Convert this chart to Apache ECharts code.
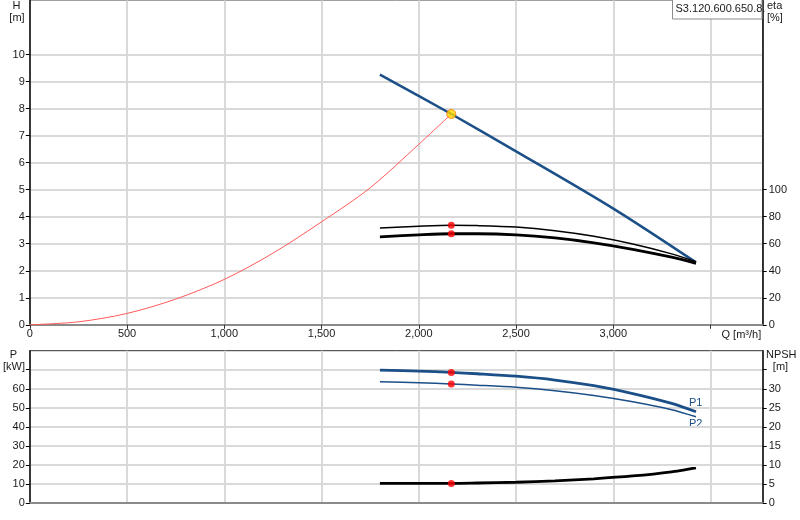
<!DOCTYPE html>
<html>
<head>
<meta charset="utf-8">
<script src="https://cdn.jsdelivr.net/npm/echarts@6/dist/echarts.min.js"></script>
<style>
html,body{margin:0;padding:0;background:#fff;}
#c{width:800px;height:520px;}
</style>
</head>
<body>
<div id="c"></div>
<script>
// ---- data ----
const qH = [1800, 2167, 2500, 3000, 3425];
const hH = [9.26, 7.80, 6.42, 4.30, 2.31];

const qSys = [0, 250, 500, 750, 1000, 1250, 1500, 1750, 2000, 2167];
const hSys = [0, 0.11, 0.42, 0.95, 1.68, 2.65, 3.81, 5.07, 6.68, 7.80];

const qCurve = [1800, 2000, 2167, 2300, 2500, 2700, 2900, 3100, 3300, 3425];
const eta1 = [71.6, 72.9, 73.6, 73.4, 72.3, 69.6, 65.5, 59.8, 52.5, 46.7];
const eta2 = [65.1, 66.6, 67.4, 67.4, 66.6, 64.3, 60.7, 55.9, 50.0, 45.5];
const p1 = [69.8, 69.3, 68.6, 67.9, 66.6, 64.6, 61.6, 57.5, 52.3, 47.9];
const p2 = [63.7, 63.2, 62.5, 61.9, 60.8, 59.0, 56.5, 53.2, 49.0, 45.3];
const npsh = [5.15, 5.15, 5.15, 5.25, 5.45, 5.8, 6.35, 7.1, 8.2, 9.25];

const opQ = 2167;
const opH = 7.80;
const opEta1 = 73.6;
const opEta2 = 67.4;
const opP1 = 68.6;
const opP2 = 62.5;
const opNpsh = 5.15;

const qTicks = [0, 500, 1000, 1500, 2000, 2500, 3000, 3500];
const qLabels = [0, 500, 1000, 1500, 2000, 2500, 3000];
const hTicks = [0, 1, 2, 3, 4, 5, 6, 7, 8, 9, 10];
const etaTicks = [0, 20, 40, 60, 80, 100];
const pTicks = [0, 10, 20, 30, 40, 50, 60, 70];
const pLabels = [0, 10, 20, 30, 40, 50, 60];
const npshTicks = [0, 5, 10, 15, 20, 25, 30, 35];
const npshLabels = [0, 5, 10, 15, 20, 25, 30];

const title = 'S3.120.600.650.8.';
// ---------------------------------------

const zip = (xs, ys) => xs.map((x, i) => [x, ys[i]]);
const FONT = 'Liberation Sans, Arial, sans-serif';
const TXT = '#1a1a1a';
const GRIDC = '#d9d9d9';
const BLUE = '#1b4f88';
const QMAX = 3768;
const SM = 0.3;

const chart = echarts.init(document.getElementById('c'), null, {renderer: 'canvas'});

function yAx(grid, pos, min, max, interval, ticks, labels, split, margin) {
  return {
    type: 'value', gridIndex: grid, position: pos, min: min, max: max, interval: interval,
    axisLine: {show: true, lineStyle: {color: '#000', width: 1.5}},
    axisTick: {show: true, length: 4, customValues: ticks, lineStyle: {color: '#000'}},
    axisLabel: {show: true, customValues: labels, margin: margin, fontFamily: FONT, fontSize: 11, color: TXT},
    splitLine: {show: split, lineStyle: {color: GRIDC, width: 2}}
  };
}

function curve(xi, yi, q, v, color, width, z) {
  return {type: 'line', xAxisIndex: xi, yAxisIndex: yi, data: zip(q, v), smooth: SM,
    showSymbol: false, lineStyle: {color: color, width: width}, z: z || 4};
}

const option = {
  animation: false,
  backgroundColor: '#fff',
  grid: [
    {left: 29.8, right: 37.3, top: 0.5, height: 324.3, show: true, borderColor: '#a0a0a0', borderWidth: 1},
    {left: 29.8, right: 37.3, top: 350.7, height: 152.3, show: true, borderColor: '#333', borderWidth: 1}
  ],
  xAxis: [
    {
      type: 'value', gridIndex: 0, min: 0, max: QMAX, interval: 500, position: 'bottom',
      axisLine: {show: true, onZero: false, lineStyle: {color: '#8a8a8a', width: 2}},
      axisTick: {show: true, length: 4, customValues: qTicks, lineStyle: {color: '#333'}},
      axisLabel: {show: true, customValues: qLabels, margin: 4, fontFamily: FONT, fontSize: 11, color: TXT,
        formatter: v => Number(v).toLocaleString('en-US')},
      splitLine: {show: true, lineStyle: {color: GRIDC, width: 2}}
    },
    {
      type: 'value', gridIndex: 1, min: 0, max: QMAX, interval: 500, position: 'bottom',
      axisLine: {show: true, onZero: false, lineStyle: {color: '#8a8a8a', width: 2}},
      axisTick: {show: false},
      axisLabel: {show: false},
      splitLine: {show: true, lineStyle: {color: GRIDC, width: 2}}
    }
  ],
  yAxis: [
    yAx(0, 'left', 0, 12, 1, hTicks, hTicks, true, 5),
    yAx(0, 'right', 0, 240, 20, etaTicks, etaTicks, false, 6),
    yAx(1, 'left', 0, 80, 10, pTicks, pLabels, true, 5),
    yAx(1, 'right', 0, 40, 5, npshTicks, npshLabels, false, 6)
  ],
  series: [
    curve(0, 0, qSys, hSys, '#ff5a5a', 1, 3),
    curve(0, 0, qH, hH, BLUE, 2.5),
    curve(0, 1, qCurve, eta1, '#000', 1.5),
    curve(0, 1, qCurve, eta2, '#000', 2.8),
    {type: 'scatter', xAxisIndex: 0, yAxisIndex: 1, data: [[opQ, opEta1], [opQ, opEta2]], symbolSize: 7,
      itemStyle: {color: '#ff0000'}, z: 6},
    {type: 'scatter', xAxisIndex: 0, yAxisIndex: 0, data: [[opQ, opH]], symbolSize: 9,
      itemStyle: {color: '#ffd800', borderColor: '#ff7a00', borderWidth: 1}, z: 7},
    curve(1, 2, qCurve, p1, BLUE, 2.8),
    curve(1, 2, qCurve, p2, BLUE, 1.5),
    curve(1, 3, qCurve, npsh, '#000', 2.8),
    {type: 'scatter', xAxisIndex: 1, yAxisIndex: 2, data: [[opQ, opP1], [opQ, opP2]], symbolSize: 7,
      itemStyle: {color: '#ff0000'}, z: 6},
    {type: 'scatter', xAxisIndex: 1, yAxisIndex: 3, data: [[opQ, opNpsh]], symbolSize: 7,
      itemStyle: {color: '#ff0000'}, z: 6}
  ],
  graphic: [
    {type: 'rect', shape: {x: 672.5, y: -1, width: 89.5, height: 20}, style: {fill: '#fff', stroke: '#8c8c8c', lineWidth: 1}, z: 10},
    {type: 'text', x: 675.5, y: 9, style: {text: title, font: '11px ' + FONT, fill: TXT, textVerticalAlign: 'middle'}, z: 11},
    {type: 'text', x: 16.5, y: 6, style: {text: 'H', font: '11px ' + FONT, fill: TXT, textAlign: 'center', textVerticalAlign: 'middle'}},
    {type: 'text', x: 17, y: 17.5, style: {text: '[m]', font: '11px ' + FONT, fill: TXT, textAlign: 'center', textVerticalAlign: 'middle'}},
    {type: 'text', x: 767, y: 6, style: {text: 'eta', font: '11px ' + FONT, fill: TXT, textVerticalAlign: 'middle'}},
    {type: 'text', x: 767, y: 17.5, style: {text: '[%]', font: '11px ' + FONT, fill: TXT, textVerticalAlign: 'middle'}},
    {type: 'text', x: 721.5, y: 335, style: {text: 'Q [m³/h]', font: '11px ' + FONT, fill: TXT, textVerticalAlign: 'middle'}},
    {type: 'text', x: 13.5, y: 355, style: {text: 'P', font: '11px ' + FONT, fill: TXT, textAlign: 'center', textVerticalAlign: 'middle'}},
    {type: 'text', x: 14, y: 367, style: {text: '[kW]', font: '11px ' + FONT, fill: TXT, textAlign: 'center', textVerticalAlign: 'middle'}},
    {type: 'text', x: 766, y: 355, style: {text: 'NPSH', font: '11px ' + FONT, fill: TXT, textVerticalAlign: 'middle'}},
    {type: 'text', x: 780.5, y: 367, style: {text: '[m]', font: '11px ' + FONT, fill: TXT, textAlign: 'center', textVerticalAlign: 'middle'}},
    {type: 'text', x: 689, y: 403, style: {text: 'P1', font: '11px ' + FONT, fill: BLUE, textVerticalAlign: 'middle'}},
    {type: 'text', x: 689, y: 424, style: {text: 'P2', font: '11px ' + FONT, fill: BLUE, textVerticalAlign: 'middle'}}
  ]
};
chart.setOption(option);
</script>
</body>
</html>
